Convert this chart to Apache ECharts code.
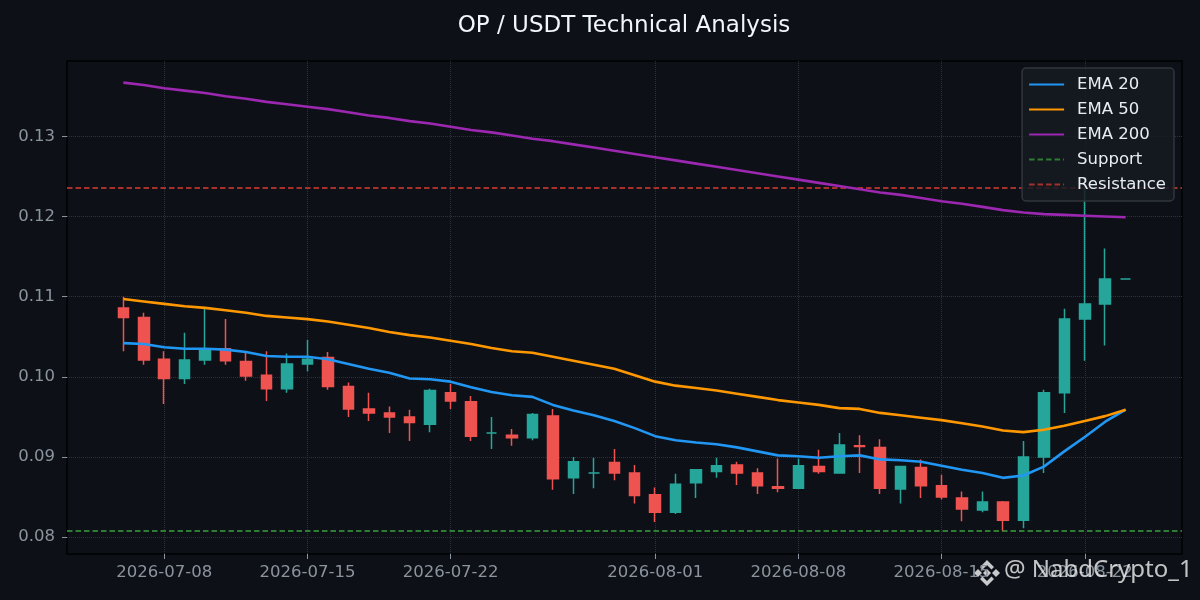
<!DOCTYPE html>
<html><head><meta charset="utf-8">
<script src="https://cdn.jsdelivr.net/npm/echarts@6/dist/echarts.min.js"></script>
<style>html,body{margin:0;padding:0;background:#0d1117;}#c{width:1200px;height:600px;}</style>
</head><body><div id="c"></div>
<script>
const dates = ['2026-07-06','2026-07-07','2026-07-08','2026-07-09','2026-07-10','2026-07-11','2026-07-12','2026-07-13','2026-07-14','2026-07-15',
'2026-07-16','2026-07-17','2026-07-18','2026-07-19','2026-07-20','2026-07-21','2026-07-22','2026-07-23','2026-07-24','2026-07-25',
'2026-07-26','2026-07-27','2026-07-28','2026-07-29','2026-07-30','2026-07-31','2026-08-01','2026-08-02','2026-08-03','2026-08-04',
'2026-08-05','2026-08-06','2026-08-07','2026-08-08','2026-08-09','2026-08-10','2026-08-11','2026-08-12','2026-08-13','2026-08-14',
'2026-08-15','2026-08-16','2026-08-17','2026-08-18','2026-08-19','2026-08-20','2026-08-21','2026-08-22','2026-08-23','2026-08-24'];
const opens = [0.1086,0.1074,0.1022,0.0998,0.1021,0.1035,0.1019,0.1002,0.0985,0.1016,
0.1024,0.0988,0.0960,0.0955,0.0950,0.0941,0.0980,0.0969,0.0930,0.0927,
0.0924,0.0951,0.0874,0.0880,0.0893,0.0880,0.0853,0.0831,0.0868,0.0882,
0.0890,0.0880,0.0863,0.0861,0.0888,0.0880,0.0914,0.0912,0.0860,0.0887,
0.0864,0.0849,0.0834,0.0844,0.0821,0.0900,0.0980,0.1072,0.1091,0.1122];
const highs = [0.1100,0.1080,0.1032,0.1055,0.1085,0.1072,0.1030,0.1032,0.1029,0.1046,
0.1031,0.0993,0.0980,0.0963,0.0959,0.0985,0.0991,0.0976,0.0950,0.0935,
0.0955,0.0960,0.0900,0.0899,0.0910,0.0890,0.0862,0.0879,0.0885,0.0899,
0.0894,0.0886,0.0898,0.0898,0.0909,0.0930,0.0927,0.0922,0.0889,0.0897,
0.0878,0.0857,0.0857,0.0845,0.0920,0.0984,0.1085,0.1236,0.1160,0.1122];
const lows = [0.1032,0.1015,0.0966,0.0991,0.1015,0.1015,0.0995,0.0970,0.0980,0.1007,
0.0984,0.0950,0.0945,0.0930,0.0920,0.0931,0.0960,0.0920,0.0910,0.0914,
0.0921,0.0859,0.0854,0.0861,0.0871,0.0842,0.0819,0.0829,0.0849,0.0874,
0.0865,0.0854,0.0856,0.0860,0.0879,0.0879,0.0880,0.0854,0.0842,0.0849,
0.0847,0.0820,0.0831,0.0808,0.0811,0.0880,0.0955,0.1020,0.1039,0.1122];
const closes = [0.1074,0.1021,0.0998,0.1021,0.1035,0.1020,0.1001,0.0985,0.1016,0.1022,
0.0988,0.0960,0.0955,0.0950,0.0943,0.0983,0.0970,0.0926,0.0930,0.0924,
0.0953,0.0873,0.0894,0.0880,0.0880,0.0852,0.0831,0.0866,0.0884,0.0889,
0.0880,0.0864,0.0861,0.0889,0.0882,0.0915,0.0913,0.0861,0.0888,0.0864,
0.0850,0.0835,0.0844,0.0821,0.0900,0.0980,0.1072,0.1091,0.1122,0.1122];
const ema20 = [0.1042,0.1041,0.1037,0.1035,0.1035,0.1034,0.1031,0.1026,0.1025,0.1025,
0.1022,0.1016,0.1010,0.1005,0.0998,0.0997,0.0994,0.0987,0.0981,0.0977,
0.0975,0.0965,0.0958,0.0952,0.0945,0.0936,0.0926,0.0921,0.0918,0.0916,
0.0912,0.0907,0.0902,0.0901,0.0899,0.0901,0.0902,0.0897,0.0896,0.0894,
0.0889,0.0884,0.0880,0.0874,0.0877,0.0888,0.0907,0.0925,0.0944,0.0959];
const ema50 = [0.1097,0.1094,0.1091,0.1088,0.1086,0.1083,0.1080,0.1076,0.1074,0.1072,
0.1069,0.1065,0.1061,0.1056,0.1052,0.1049,0.1045,0.1041,0.1036,0.1032,
0.1030,0.1025,0.1020,0.1015,0.1010,0.1002,0.0994,0.0989,0.0986,0.0983,
0.0979,0.0975,0.0971,0.0968,0.0965,0.0961,0.0960,0.0955,0.0952,0.0949,
0.0946,0.0942,0.0938,0.0933,0.0931,0.0934,0.0939,0.0945,0.0951,0.0959];
const ema200 = [0.1367,0.1364,0.1360,0.1357,0.1354,0.1350,0.1347,0.1343,0.1340,0.1337,
0.1334,0.1330,0.1326,0.1323,0.1319,0.1316,0.1312,0.1308,0.1305,0.1301,
0.1297,0.1294,0.1290,0.1286,0.1282,0.1278,0.1274,0.1270,0.1266,0.1262,
0.1258,0.1254,0.1250,0.1246,0.1242,0.1238,0.1234,0.1230,0.1227,0.1223,
0.1219,0.1216,0.1212,0.1208,0.1205,0.1203,0.1202,0.1201,0.1200,0.1199];
const supportLevel = 0.0808;
const resistanceLevel = 0.1236;
const xTickLabels = ['2026-07-08','2026-07-15','2026-07-22','2026-08-01','2026-08-08','2026-08-15','2026-08-22'];
const yTickValues = [0.08,0.09,0.10,0.11,0.12,0.13];

function ts(s){ const p=s.split('-').map(Number); return Date.UTC(p[0],p[1]-1,p[2]); }
function p2(n){ return (n<10?'0':'')+n; }
function fmt(v){ const d=new Date(v); return d.getUTCFullYear()+'-'+p2(d.getUTCMonth()+1)+'-'+p2(d.getUTCDate()); }
const t0 = ts(dates[0]), t1 = ts(dates[dates.length-1]);
const span = t1 - t0;
const xTicks = xTickLabels.map(ts);

const candleData = dates.map((d,i)=>[ts(d), opens[i], closes[i], lows[i], highs[i]]);
const lineData = arr => dates.map((d,i)=>[ts(d), arr[i]]);

const UP='#26a69a', DOWN='#ef5350';
const SUP='#2e7d32', RES='#a8302b';
const gridColor='#2d333b';
const labelColor='#8b949e';
const FONT='DejaVu Sans';

const chart = echarts.init(document.getElementById('c'), null, {renderer:'canvas'});
chart.setOption({
  backgroundColor:'#0d1117',
  animation:false,
  title:{ text:'OP / USDT Technical Analysis', left:624, textAlign:'center', top:15, padding:0,
    textStyle:{ color:'#f0f6fc', fontFamily:FONT, fontSize:23, fontWeight:'normal' } },
  grid:{ left:67, right:18, top:61, bottom:46, show:true, borderColor:'#000000', borderWidth:1.5, backgroundColor:'#0d1117' },
  legend:{ orient:'vertical', right:26, top:68, z:20, padding:[8,8,8,6], itemGap:8, itemWidth:35, itemHeight:16,
    backgroundColor:'rgba(22,27,34,0.86)', borderColor:'#30363d', borderWidth:1.5, borderRadius:4,
    itemStyle:{ opacity:0 },
    textStyle:{ color:'#e6edf3', fontFamily:FONT, fontSize:16.5, padding:[0,0,0,8] },
    data:['EMA 20','EMA 50','EMA 200','Support','Resistance'] },
  xAxis:{ type:'value', min:t0-0.0562*span, max:t1+0.0562*span,
    axisLine:{show:false},
    axisTick:{ show:true, length:5, lineStyle:{color:labelColor}, customValues:xTicks },
    axisLabel:{ color:labelColor, fontFamily:FONT, fontSize:16.5, margin:10, customValues:xTicks, formatter:fmt },
    splitLine:{ show:true, lineStyle:{ color:gridColor, type:'dotted', width:1 } } },
  yAxis:{ type:'value', min:0.0779, max:0.1394, scale:true,
    axisLine:{show:false},
    axisTick:{ show:true, length:5, lineStyle:{color:labelColor}, customValues:yTickValues },
    axisLabel:{ color:labelColor, fontFamily:FONT, fontSize:16.5, margin:12, customValues:yTickValues, formatter:v=>v.toFixed(2) },
    splitLine:{ show:true, lineStyle:{ color:gridColor, type:'dotted', width:1 } } },
  series:[
    { name:'Support', type:'line', data:[], symbol:'none', z:1, lineStyle:{color:SUP, type:[5.5,3], width:2}, itemStyle:{color:SUP},
      markLine:{ silent:true, symbol:'none', precision:6, z:1, label:{show:false}, lineStyle:{color:SUP, type:[5.5,3], width:2}, data:[{yAxis:supportLevel}] } },
    { name:'Resistance', type:'line', data:[], symbol:'none', z:1, lineStyle:{color:RES, type:[5.5,3], width:2}, itemStyle:{color:RES},
      markLine:{ silent:true, symbol:'none', precision:6, z:1, label:{show:false}, lineStyle:{color:RES, type:[5.5,3], width:2}, data:[{yAxis:resistanceLevel}] } },
    { name:'candles', type:'candlestick', data:candleData, barWidth:11,
      itemStyle:{ color:UP, color0:DOWN, borderColor:UP, borderColor0:DOWN, borderColorDoji:UP, borderWidth:1.5 } },
    { name:'EMA 20', type:'line', data:lineData(ema20), symbol:'none', lineStyle:{color:'#2196f3', width:2.6}, itemStyle:{color:'#2196f3'}, z:3 },
    { name:'EMA 50', type:'line', data:lineData(ema50), symbol:'none', lineStyle:{color:'#ff9800', width:2.6}, itemStyle:{color:'#ff9800'}, z:3 },
    { name:'EMA 200', type:'line', data:lineData(ema200), symbol:'none', lineStyle:{color:'#9c27b0', width:2.6}, itemStyle:{color:'#9c27b0'}, z:3 }
  ],
  graphic:[
    { type:'group', left:974, top:560, z:100, children:[
      { type:'polygon', shape:{points:[[13,9],[17,13],[13,17],[9,13]]}, style:{fill:'rgba(235,235,235,0.85)'} },
      { type:'polygon', shape:{points:[[4,9],[8,13],[4,17],[0,13]]}, style:{fill:'rgba(235,235,235,0.85)'} },
      { type:'polygon', shape:{points:[[22,9],[26,13],[22,17],[18,13]]}, style:{fill:'rgba(235,235,235,0.85)'} },
      { type:'polygon', shape:{points:[[13,0],[20,7],[17.5,9.5],[13,5],[8.5,9.5],[6,7]]}, style:{fill:'rgba(235,235,235,0.85)'} },
      { type:'polygon', shape:{points:[[13,26],[20,19],[17.5,16.5],[13,21],[8.5,16.5],[6,19]]}, style:{fill:'rgba(235,235,235,0.85)'} }
    ]},
    { type:'text', left:1004, top:558, z:100, style:{ text:'@ NabdCrypto_1', fill:'rgba(235,235,235,0.82)', font:'24px "Noto Sans"' } }
  ]
});
</script></body></html>
